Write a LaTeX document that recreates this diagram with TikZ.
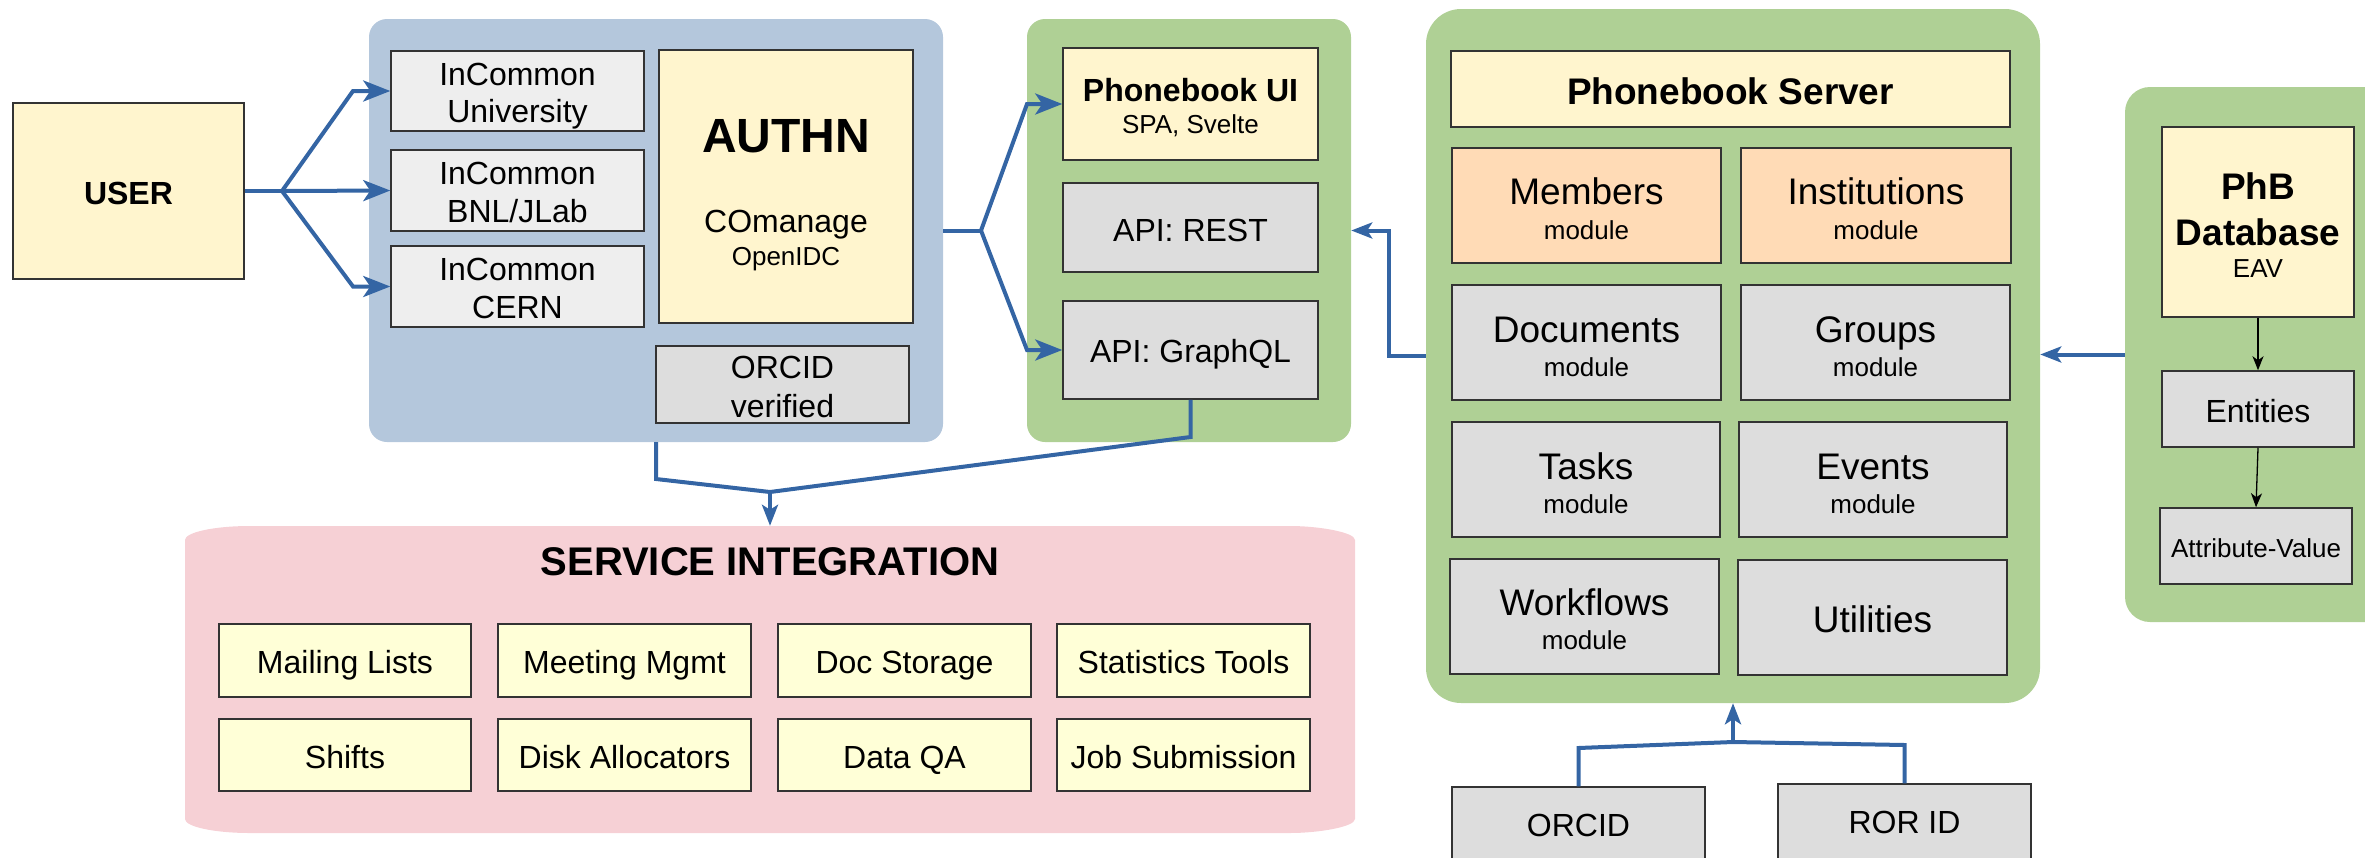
\documentclass[tikz,border=0pt]{standalone}
\usepackage{fontspec}
\setmainfont{Liberation Sans}
\usetikzlibrary{fit,arrows.meta}
\definecolor{ylw}{HTML}{FFF5CE}
\definecolor{svcy}{HTML}{FFFFD7}
\definecolor{lgray}{HTML}{EEEEEE}
\definecolor{mgray}{HTML}{DDDDDD}
\definecolor{orng}{HTML}{FFDBB6}
\definecolor{bgrp}{HTML}{B4C7DC}
\definecolor{ggrp}{HTML}{AFD095}
\definecolor{pgrp}{HTML}{F6D0D5}
\definecolor{abl}{HTML}{3465A4}
\newcommand{\fsz}[1]{\fontsize{#1}{#1}\selectfont}
\newcommand{\bx}[6]{\node[#6, fit={(#2,#3) (#4,#5)}] (#1) {};}
\begin{document}
\begin{tikzpicture}[x=1pt,y=-1pt,
  box/.style={draw=black!80, line width=1.5pt, inner sep=0pt},
  ybox/.style={box, fill=ylw},
  sbox/.style={box, fill=svcy},
  lbox/.style={box, fill=lgray},
  gbox/.style={box, fill=mgray},
  obox/.style={box, fill=orng},
  grp/.style={draw=none, inner sep=0pt},
  conn/.style={draw=abl, line width=4pt, line join=miter},
  tipL/.style={-{Stealth[length=27pt,width=21pt,inset=7pt]}},
  tipS/.style={-{Stealth[length=21pt,width=16pt,inset=5pt]}},
  thinarr/.style={draw=black, line width=1.3pt, -{Stealth[length=14pt,width=11pt,inset=4pt]}},
  txt/.style={inner sep=0pt, anchor=base, text=black},
]
\useasboundingbox (0,0) rectangle (2365,857);
\clip (0,0) rectangle (2365,857);

% ---------- containers ----------
\bx{authgrp}{369}{19}{943}{442}{grp, fill=bgrp, rounded corners=18pt}
\bx{uigrp}{1027}{19}{1351}{442}{grp, fill=ggrp, rounded corners=18pt}
\bx{server}{1426}{9}{2040}{703}{grp, fill=ggrp, rounded corners=35pt}
\bx{phbgrp}{2125}{87}{2420}{622}{grp, fill=ggrp, rounded corners=25pt}
\fill[pgrp] (250,526) -- (1290,526) .. controls (1319.1,526) and (1355,532.3) .. (1355,540)
  -- (1355,819) .. controls (1355,826.7) and (1319.1,833) .. (1290,833)
  -- (250,833) .. controls (214.1,833) and (185,826.7) .. (185,819)
  -- (185,540) .. controls (185,532.3) and (214.1,526) .. cycle;
\bx{svc}{185}{526}{1355}{833}{grp}

% ---------- user / auth ----------
\bx{user}{13}{103}{244}{279}{ybox}
\node[txt, font=\fsz{32}\bfseries] (userT) at (128.5,204) {USER};

\bx{inc1}{391}{51}{644}{131}{lbox}
\node[txt, font=\fsz{32}] (inc1a) at (517.5,85) {InCommon};
\node[txt, font=\fsz{32}] (inc1b) at (517.5,122) {University};
\bx{inc2}{391}{150}{644}{231}{lbox}
\node[txt, font=\fsz{32}] (inc2a) at (517.5,184) {InCommon};
\node[txt, font=\fsz{32}] (inc2b) at (517.5,222) {BNL/JLab};
\bx{inc3}{391}{246}{644}{327}{lbox}
\node[txt, font=\fsz{32}] (inc3a) at (517.5,280) {InCommon};
\node[txt, font=\fsz{32}] (inc3b) at (517.5,318) {CERN};

\bx{authn}{659}{50}{913}{323}{ybox}
\node[txt, font=\fsz{48}\bfseries] (authnT) at (786,152) {AUTHN};
\node[txt, font=\fsz{32}] (comT) at (786,232) {COmanage};
\node[txt, font=\fsz{26}] (oidcT) at (786,265) {OpenIDC};

\bx{orcv}{656}{346}{909}{423}{gbox}
\node[txt, font=\fsz{32}] (orcvA) at (782.5,378) {ORCID};
\node[txt, font=\fsz{32}] (orcvB) at (782.5,417) {verified};

% ---------- UI ----------
\bx{ui}{1063}{48}{1318}{160}{ybox}
\node[txt, font=\fsz{32}\bfseries] (uiA) at (1190.5,101) {Phonebook UI};
\node[txt, font=\fsz{26}] (uiB) at (1190.5,133) {SPA, Svelte};
\bx{rest}{1063}{183}{1318}{272}{gbox}
\node[txt, font=\fsz{32}] (restT) at (1190.5,241) {API: REST};
\bx{gql}{1063}{301}{1318}{399}{gbox}
\node[txt, font=\fsz{32}] (gqlT) at (1190.5,362) {API: GraphQL};

% ---------- server ----------
\bx{srvT}{1451}{51}{2010}{127}{ybox}
\node[txt, font=\fsz{37}\bfseries] (srvTT) at (1730.5,104) {Phonebook Server};

\bx{members}{1452}{148}{1721}{263}{obox}
\node[txt, font=\fsz{37}] (membersA) at (1586.5,204) {Members};
\node[txt, font=\fsz{26}] (membersB) at (1586.5,239) {module};
\bx{inst}{1741}{148}{2011}{263}{obox}
\node[txt, font=\fsz{37}] (instA) at (1876,204) {Institutions};
\node[txt, font=\fsz{26}] (instB) at (1876,239) {module};

\bx{docs}{1452}{285}{1721}{400}{gbox}
\node[txt, font=\fsz{37}] (docsA) at (1586.5,342) {Documents};
\node[txt, font=\fsz{26}] (docsB) at (1586.5,376) {module};
\bx{groups}{1741}{285}{2010}{400}{gbox}
\node[txt, font=\fsz{37}] (groupsA) at (1875.5,342) {Groups};
\node[txt, font=\fsz{26}] (groupsB) at (1875.5,376) {module};

\bx{tasks}{1452}{422}{1720}{537}{gbox}
\node[txt, font=\fsz{37}] (tasksA) at (1586,479) {Tasks};
\node[txt, font=\fsz{26}] (tasksB) at (1586,513) {module};
\bx{events}{1739}{422}{2007}{537}{gbox}
\node[txt, font=\fsz{37}] (eventsA) at (1873,479) {Events};
\node[txt, font=\fsz{26}] (eventsB) at (1873,513) {module};

\bx{wf}{1450}{559}{1719}{674}{gbox}
\node[txt, font=\fsz{37}] (wfA) at (1584.5,615) {Workflows};
\node[txt, font=\fsz{26}] (wfB) at (1584.5,649) {module};
\bx{util}{1738}{560}{2007}{675}{gbox}
\node[txt, font=\fsz{37}] (utilT) at (1872.5,632) {Utilities};

% ---------- database ----------
\bx{phbdb}{2162}{127}{2354}{317}{ybox}
\node[txt, font=\fsz{37}\bfseries] (phbA) at (2258,199) {PhB};
\node[txt, font=\fsz{37}\bfseries] (phbB) at (2258,245) {Database};
\node[txt, font=\fsz{26}] (phbC) at (2258,277) {EAV};
\bx{ent}{2162}{371}{2354}{447}{gbox}
\node[txt, font=\fsz{32}] (entT) at (2258,422) {Entities};
\bx{attr}{2160}{508}{2352}{584}{gbox}
\node[txt, font=\fsz{26}] (attrT) at (2256,557) {Attribute-Value};

% ---------- identifiers ----------
\bx{orcid}{1452}{787}{1705}{864}{gbox}
\node[txt, font=\fsz{32}] (orcidT) at (1578.5,836) {ORCID};
\bx{ror}{1778}{784}{2031}{862}{gbox}
\node[txt, font=\fsz{32}] (rorT) at (1904.5,833) {ROR ID};

% ---------- service integration ----------
\node[txt, font=\fsz{40}\bfseries] (svcT) at (770,575) {SERVICE INTEGRATION};
\bx{s1}{219}{624}{471}{697}{sbox}
\node[txt, font=\fsz{32}] (s1T) at (345,673) {Mailing Lists};
\bx{s2}{498}{624}{751}{697}{sbox}
\node[txt, font=\fsz{32}] (s2T) at (624.5,673) {Meeting Mgmt};
\bx{s3}{778}{624}{1031}{697}{sbox}
\node[txt, font=\fsz{32}] (s3T) at (904.5,673) {Doc Storage};
\bx{s4}{1057}{624}{1310}{697}{sbox}
\node[txt, font=\fsz{32}] (s4T) at (1183.5,673) {Statistics Tools};
\bx{s5}{219}{719}{471}{791}{sbox}
\node[txt, font=\fsz{32}] (s5T) at (345,768) {Shifts};
\bx{s6}{498}{719}{751}{791}{sbox}
\node[txt, font=\fsz{32}] (s6T) at (624.5,768) {Disk Allocators};
\bx{s7}{778}{719}{1031}{791}{sbox}
\node[txt, font=\fsz{32}] (s7T) at (904.5,768) {Data QA};
\bx{s8}{1057}{719}{1310}{791}{sbox}
\node[txt, font=\fsz{32}] (s8T) at (1183.5,768) {Job Submission};

% ---------- connectors ----------
\coordinate (j1) at (282,191);
\coordinate (k1) at (353,91);
\coordinate (k3) at (353,286.5);
\draw[conn] (user.east) -- (j1);
\draw[conn, tipL] (j1) -- (k1) -- (inc1.west);
\draw[conn, tipL] (j1) -- (inc2.west);
\draw[conn, tipL] (j1) -- (k3) -- (inc3.west);

\coordinate (j2) at (981,230.5);
\coordinate (k4) at (1027,104);
\coordinate (k5) at (1027,350);
\draw[conn] (authgrp.east) -- (j2);
\draw[conn, tipL] (j2) -- (k4) -- (ui.west);
\draw[conn, tipL] (j2) -- (k5) -- (gql.west);

\coordinate (k6) at (1389,356);
\coordinate (k7) at (1389,230.5);
\draw[conn, tipS] (server.west) -- (k6) -- (k7) -- (uigrp.east);

\draw[conn, tipS] (phbgrp.west) -- (phbgrp.west -| server.east);

\coordinate (j3) at (770,492);
\coordinate (k8) at (656,479);
\coordinate (k9) at (1190.5,437);
\draw[conn] (authgrp.south) -- (k8) -- (j3) -- (k9) -- (gql.south);
\draw[conn, tipS] (j3) -- (svc.north);

\coordinate (j4) at (1733,742);
\coordinate (k10) at (1578.5,748);
\coordinate (k11) at (1904.5,745);
\draw[conn] (orcid.north) -- (k10) -- (j4) -- (k11) -- (ror.north);
\draw[conn, tipS] (j4) -- (server.south);

\draw[thinarr] (phbdb.south) -- (ent.north);
\draw[thinarr] (ent.south) -- (attr.north);
\end{tikzpicture}
\end{document}
